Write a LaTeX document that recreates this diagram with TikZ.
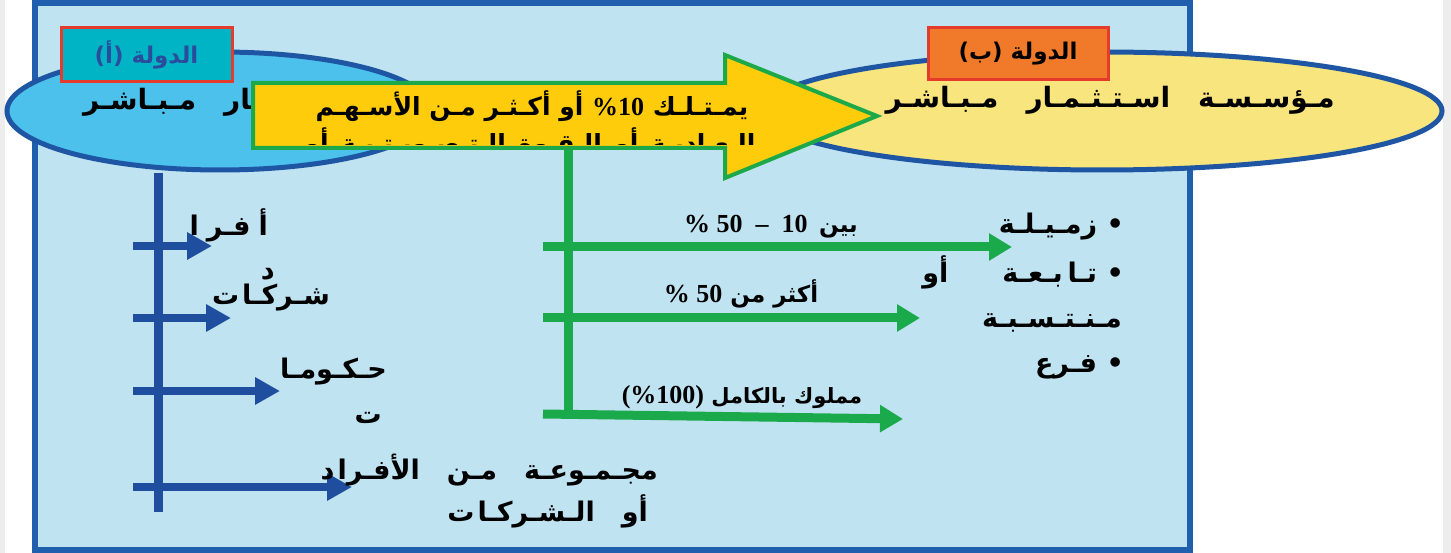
\documentclass[tikz,border=0pt]{standalone}
\usepackage{fontspec}
\usetikzlibrary{arrows.meta,shapes.geometric}
\TeXXeTstate=1
\newfontfamily\arabicfont[Script=Arabic]{DejaVu Sans}
\newfontfamily\latnfont{Liberation Serif}
\newcommand{\myR}[1]{\beginR #1\endR}
\newcommand{\latn}[1]{\beginL{\latnfont\bfseries\fontsize{26}{30}\selectfont #1}\endL}
\newcommand{\gap}{\hspace{5pt}}
\definecolor{frameblue}{HTML}{1F5FAD}
\definecolor{framefill}{HTML}{C0E3F2}
\definecolor{ellblue}{HTML}{4CC1EC}
\definecolor{ellyellow}{HTML}{F8E57E}
\definecolor{ellline}{HTML}{1E56A4}
\definecolor{arrowfill}{HTML}{FFCC0C}
\definecolor{arrowline}{HTML}{1DA84A}
\definecolor{boxred}{HTML}{E43B2D}
\definecolor{boxteal}{HTML}{00B4C6}
\definecolor{boxorange}{HTML}{F07A2A}
\definecolor{labelblue}{HTML}{2B4C9C}
\definecolor{treeblue}{HTML}{1F4E9E}
\definecolor{treegreen}{HTML}{1BAA4B}
\tikzset{
  ell/.style={ellipse, draw=ellline, line width=5pt, inner sep=0pt},
  statebox/.style={draw=boxred, line width=3pt, inner sep=0pt, minimum width=171pt, minimum height=54pt,
    font=\arabicfont\bfseries\fontsize{23}{27}\selectfont},
  bodytxt/.style={inner sep=0pt, font=\arabicfont\bfseries\fontsize{28}{34}\selectfont},
  treetxt/.style={inner sep=0pt, font=\arabicfont\bfseries\fontsize{27}{32}\selectfont},
  pcttxt/.style={inner sep=0pt, font=\arabicfont\bfseries\fontsize{23}{27}\selectfont},
  arrtxt/.style={inner sep=0pt, font=\arabicfont\bfseries\fontsize{25}{30}\selectfont},
  bluestem/.style={draw=treeblue, line width=9pt},
  bluearrow/.style={draw=treeblue, line width=8pt, -{Triangle[length=25pt,width=26pt]}},
  greenstem/.style={draw=treegreen, line width=9pt},
  greenarrow/.style={draw=treegreen, line width=9pt, -{Triangle[length=23pt,width=26pt]}},
}
\begin{document}
\begin{tikzpicture}[x=1pt,y=-1pt]
\useasboundingbox (0,0) rectangle (1451,553);
\fill[white] (0,0) rectangle (1451,553);
\fill[black!7] (0,0) rectangle (5,553);
\fill[black!7] (1443,0) rectangle (1451,553);
% frame
\draw[line width=6pt, draw=frameblue, fill=framefill] (35,3) rectangle (1190,550);

% ellipses
\node[ell, fill=ellblue, minimum width=426pt, minimum height=118pt] (ellA) at (220,111) {};
\node[ell, fill=ellyellow, minimum width=680pt, minimum height=118pt] (ellB) at (1102,111) {};
\begin{scope}
\clip (40,60) rectangle (254,160);
\node[bodytxt, anchor=base west] (ellAtxt) at (83,110) {\myR{مـؤسـسـة\quad اسـتـثـمـار\quad مـبـاشـر}};
\end{scope}
\node[bodytxt, anchor=base east] (ellBtxt) at (1335,108) {\myR{مـؤسـسـة\quad اسـتـثـمـار\quad مـبـاشـر}};

% state boxes
\node[statebox, fill=boxteal, text=labelblue] (stateA) at (146.5,55) {\myR{الدولة (أ)}};
\node[statebox, fill=boxorange, minimum width=180pt, minimum height=52pt] (stateB) at (1018,54) {\myR{الدولة (ب)}};

% green stem (under the big arrow)
\coordinate (gtop) at (568,140);
\coordinate (gbot) at (568,417);
\draw[greenstem] (gtop) -- (gbot);

% big arrow
\draw[draw=arrowline, fill=arrowfill, line width=4pt, line join=miter]
  (253,83) -- (725,83) -- (725,55) -- (877,116) -- (725,178) -- (725,148) -- (253,148) -- cycle;
\begin{scope}
\clip (255,85) rectangle (880,145);
\node[arrtxt, anchor=base] (arr1) at (532,116) {\myR{يمـتـلـك \latn{10}\latn{\%} أو أكـثـر مـن الأسـهـم}};
\node[arrtxt, anchor=base] (arr2) at (530,153) {\myR{الـعـاديـة\enspace أو\enspace الـقـوة\enspace الـتـصـويـتـيـة\enspace أو}};
\end{scope}

% blue tree
\coordinate (btop) at (158,173);
\coordinate (bbot) at (158,512);
\draw[bluestem] (btop) -- (bbot);
\coordinate (b1s) at (133,246); \coordinate (b1e) at (212,246);
\coordinate (b2s) at (133,318); \coordinate (b2e) at (231,318);
\coordinate (b3s) at (133,391); \coordinate (b3e) at (280,391);
\coordinate (b4s) at (133,487); \coordinate (b4e) at (352,487);
\draw[bluearrow] (b1s) -- (b1e);
\draw[bluearrow] (b2s) -- (b2e);
\draw[bluearrow] (b3s) -- (b3e);
\draw[bluearrow] (b4s) -- (b4e);

\node[treetxt, anchor=base east] (t1a) at (268,236) {\myR{أ\hspace{8pt}فـر\hspace{8pt}ا}};
\node[treetxt, anchor=base east] (t1b) at (275,280) {\myR{د}};
\node[treetxt, anchor=base east] (t2) at (330,305) {\myR{شـركـا\hspace{3pt}ت}};
\node[treetxt, anchor=base east] (t3a) at (387,378) {\myR{حـكـومـا}};
\node[treetxt, anchor=base east] (t3b) at (382,423) {\myR{ت}};
\node[treetxt, anchor=base east] (t4a) at (658,479) {\myR{مجـمـوعـة\quad مـن\quad الأفـرا\hspace{3pt}د}};
\node[treetxt, anchor=base east] (t4b) at (648,521) {\myR{أو\quad الـشـركـا\hspace{3pt}ت}};

% green arrows
\coordinate (g1s) at (543,247); \coordinate (g1e) at (1012,247);
\coordinate (g2s) at (543,318); \coordinate (g2e) at (920,318);
\coordinate (g3s) at (543,414); \coordinate (g3e) at (903,419);
\draw[greenarrow] (g1s) -- (g1e);
\draw[greenarrow] (g2s) -- (g2e);
\draw[greenarrow] (g3s) -- (g3e);

\node[pcttxt, anchor=base] (p1) at (771,233) {\myR{بين\enspace \latn{\%\ 50\ \ –\ \ 10}}};
\node[pcttxt, anchor=base] (p2) at (741,303) {\myR{أكثر من \latn{\%\ 50}}};
\node[pcttxt, anchor=base, font=\arabicfont\bfseries\fontsize{21}{25}\selectfont] (p3) at (742,403) {\myR{مملوك بالكامل \latn{(\%100)}}};

% right list
\node[treetxt, anchor=base east] (r1) at (1124,234) {\myR{•\ زمـيـلـة}};
\node[treetxt, anchor=base east] (r2) at (1124,283) {\myR{•\ تـا\gap بـعـة\qquad أو}};
\node[treetxt, anchor=base east] (r3) at (1122,327) {\myR{مـنـتـسـبـة}};
\node[treetxt, anchor=base east] (r4) at (1124,372) {\myR{•\ فـرع}};
\end{tikzpicture}
\end{document}
